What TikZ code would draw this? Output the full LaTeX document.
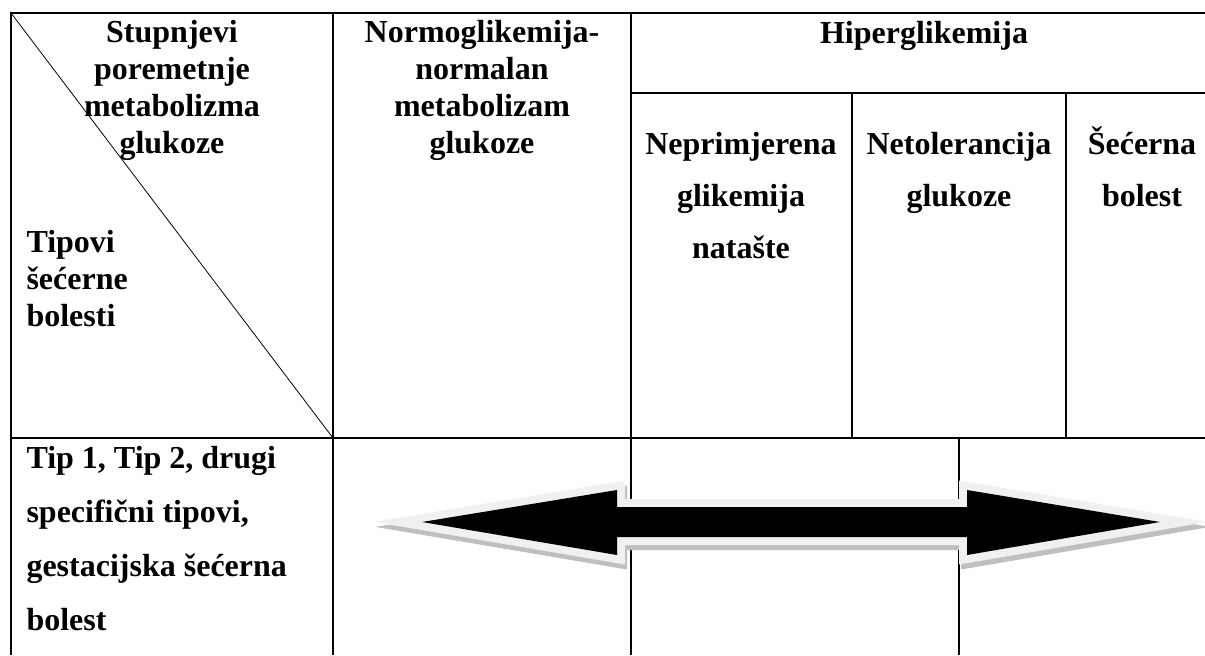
\documentclass[tikz,border=0pt]{standalone}
\usepackage{fontspec}
\setmainfont{Liberation Serif}
\usepackage{tikz}
\usetikzlibrary{positioning, calc, shapes, arrows}

% the double arrow of the lower row
\newcommand{\dblarrow}[1]{%
  \path[#1] (422,522) -- (617,490) -- (617,507) -- (967,507) -- (967,490)
    -- (1160,522) -- (967,555) -- (967,537) -- (617,537) -- (617,555) -- cycle;}

\begin{document}
\begin{tikzpicture}[x=0.375pt, y=-0.375pt,
  cell/.style={font=\bfseries\fontsize{12}{13.8}\selectfont, inner sep=0pt, anchor=base, align=center},
  cellwide/.style={cell, font=\bfseries\fontsize{12}{19.5}\selectfont},
  rowhead/.style={cell, font=\bfseries\fontsize{12}{20.25}\selectfont, anchor=base west, align=left},
  grid/.style={line width=0.6pt},
  ]
  \useasboundingbox (0,0) rectangle (1205,655);

  % table
  \draw[grid] (1205,13) -- (11,13) -- (11,655);
  \draw[grid] (11,438) -- (1205,438);
  \draw[grid] (631,93) -- (1205,93);
  \draw[grid] (333,13) -- (333,655);
  \draw[grid] (631,13) -- (631,655);
  \draw[grid] (852,93) -- (852,438);
  \draw[grid] (1066,93) -- (1066,438);
  \draw[grid] (959,438) -- (959,655);
  \draw[line width=0.3pt] (11,13) -- (333,438);

  % texts (anchored at the baseline of their last line)
  \node[cell] (stupnjevi) at (172,153) {Stupnjevi\\poremetnje\\metabolizma\\glukoze};
  \node[cell, anchor=base west, align=left] (tipovi) at (26,326) {Tipovi\\šećerne\\bolesti};
  \node[cell] (normo) at (482,153) {Normoglikemija-\\normalan\\metabolizam\\glukoze};
  \node[cell] (hiper) at (924,43) {Hiperglikemija};
  \node[cellwide] (neprim) at (741,258) {Neprimjerena\\glikemija\\natašte};
  \node[cellwide] (netol) at (959,206) {Netolerancija\\glukoze};
  \node[cellwide] (secerna) at (1142,206) {Šećerna\\bolest};
  \node[rowhead] (tipovi2) at (26,630) {Tip 1, Tip 2, drugi\\specifični tipovi,\\gestacijska šećerna\\bolest};

  % arrow: shadow, light rim, black body
  \dblarrow{fill=black!25, draw=black!25, line width=6pt, miter limit=10, shift={(2,5)}}
  \dblarrow{fill=black!6, draw=black!6, line width=6pt, miter limit=10}
  \dblarrow{fill=black}

\end{tikzpicture}
\end{document}
